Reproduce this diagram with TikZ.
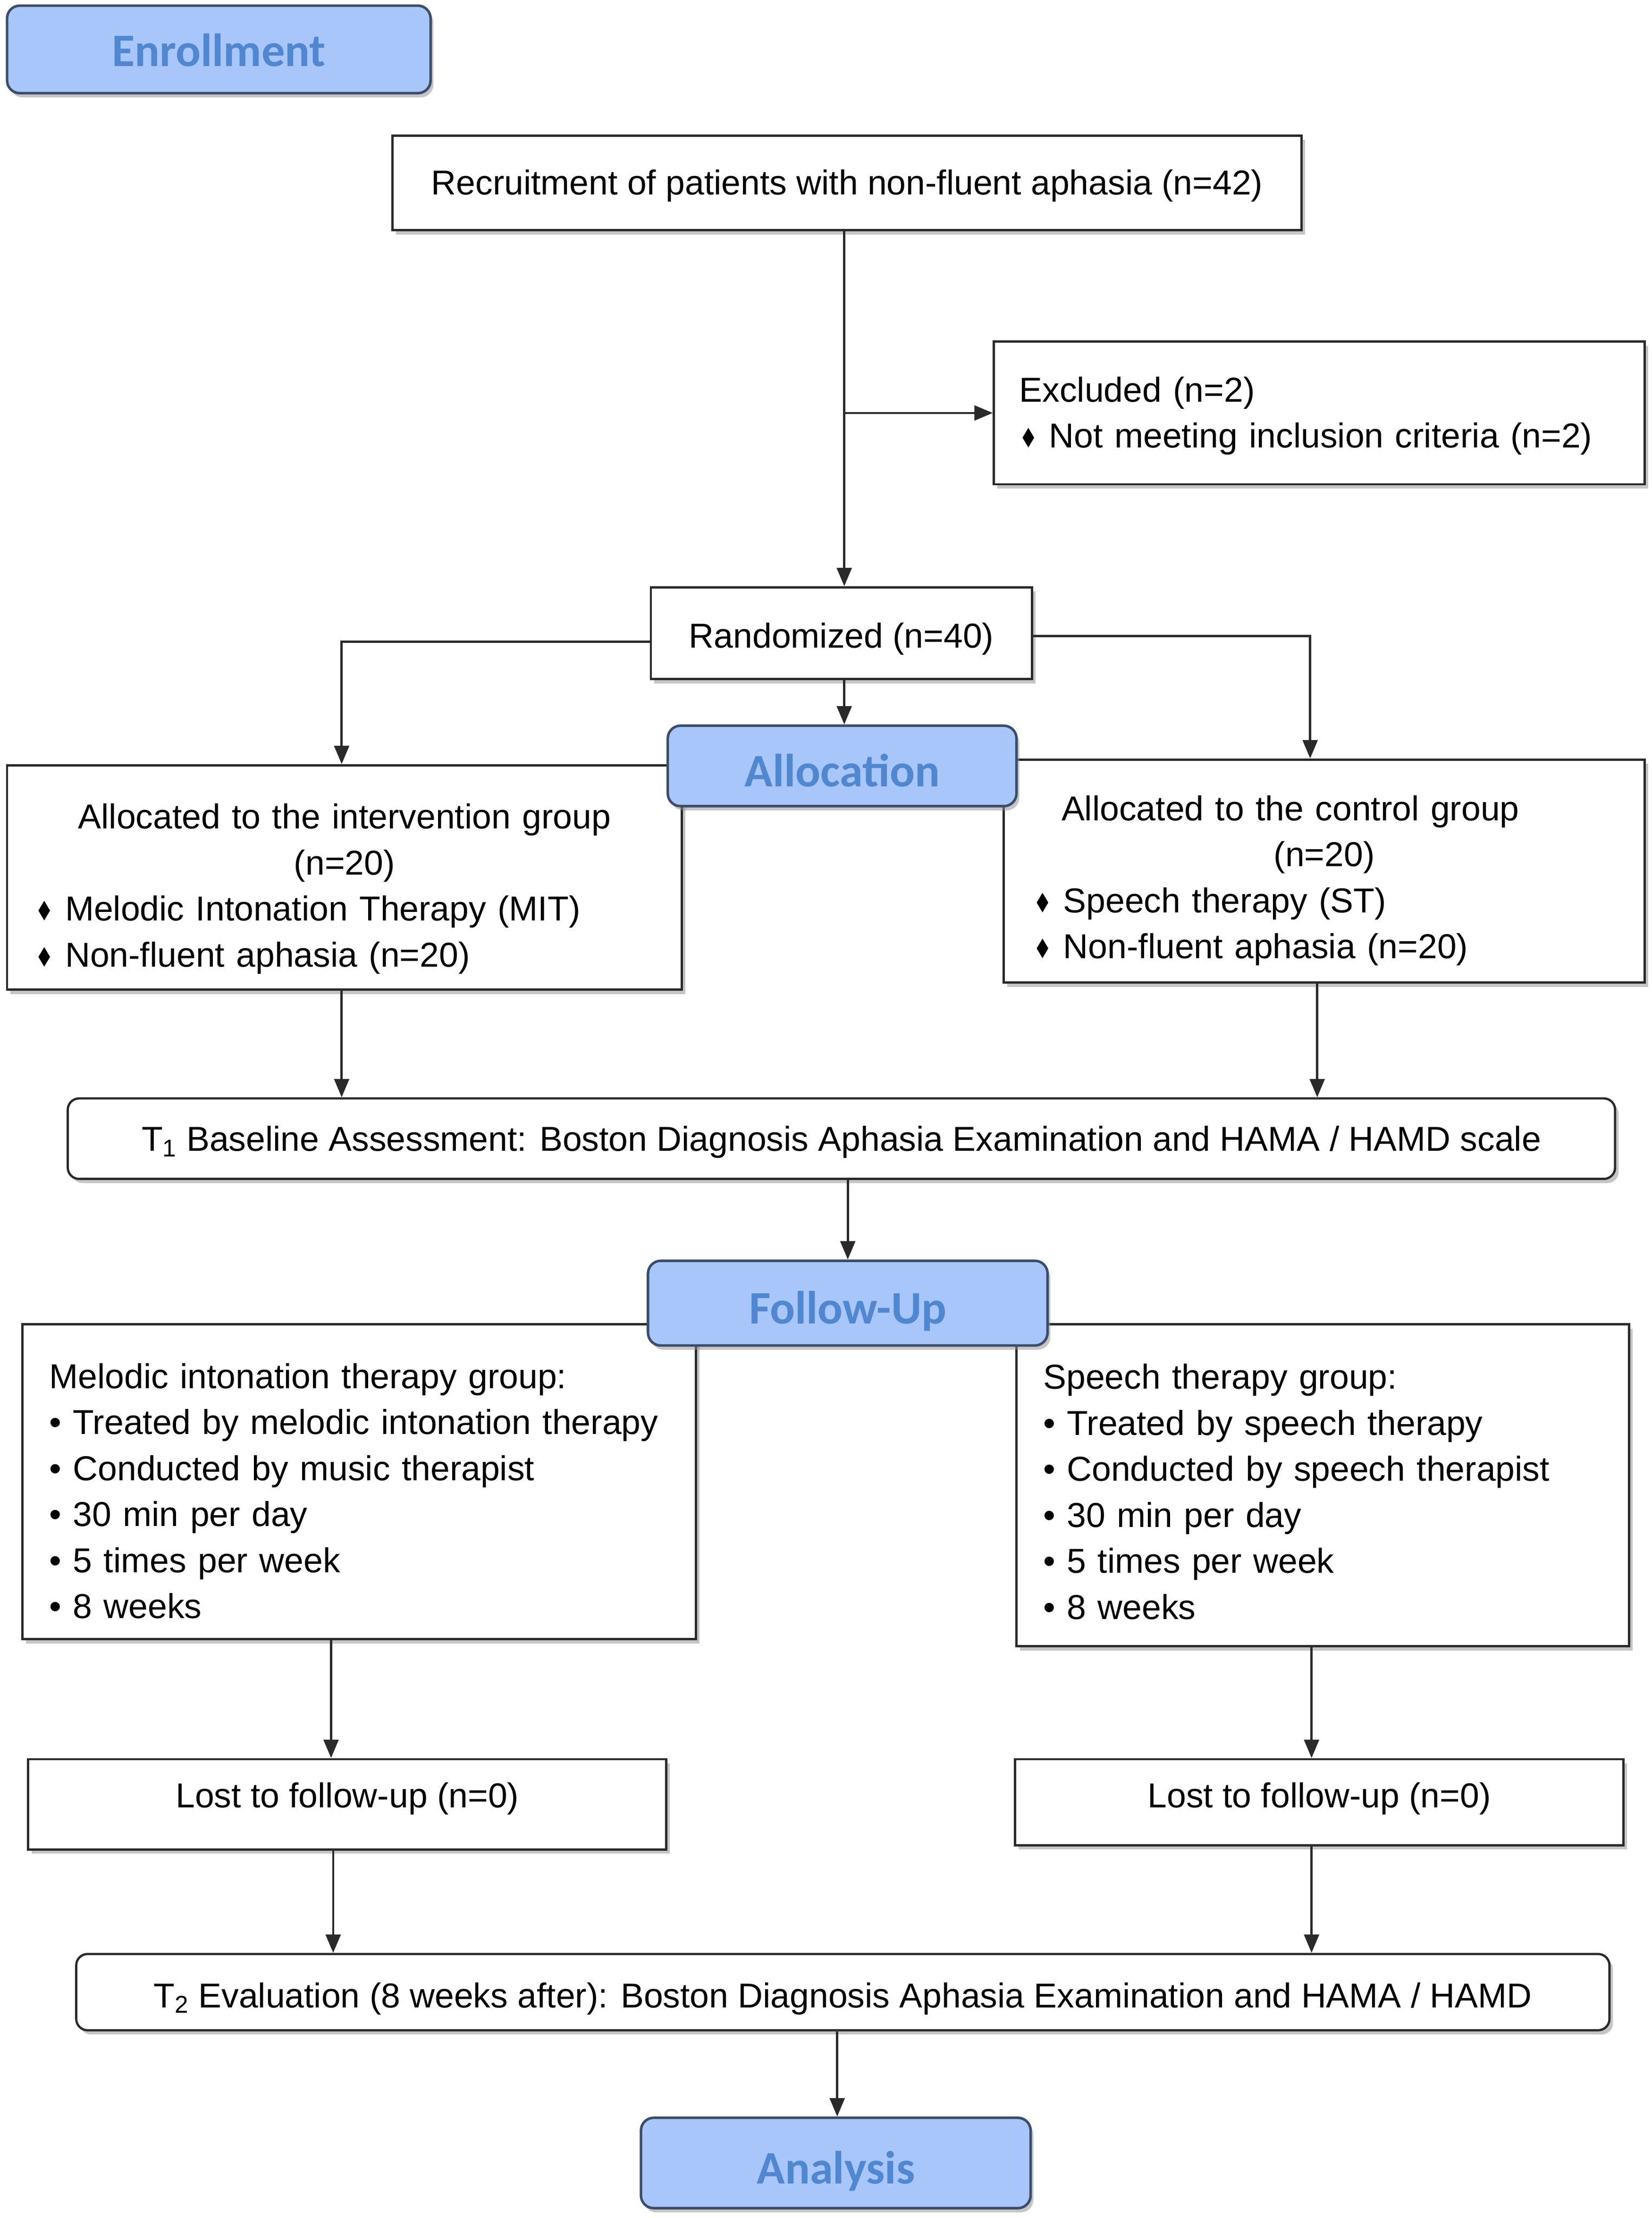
\documentclass[tikz,border=0pt]{standalone}
\usepackage{fontspec}
\usepackage{graphicx}
\setmainfont{Liberation Sans}
\newfontfamily\headfont{Carlito}
\newfontfamily\symfont{DejaVu Sans}
\usetikzlibrary{arrows.meta,shadows}
\definecolor{hdfill}{HTML}{A8C6FA}
\definecolor{hdtext}{HTML}{4F87D1}
\definecolor{hddraw}{HTML}{3A4E6A}
\definecolor{ln}{HTML}{2A2A2A}
\newcommand{\dmd}{{\symfont\scalebox{0.6}[0.78]{♦}}\hspace{8pt}}
\newcommand{\dn}[1]{\rule{0pt}{#1pt}}
\begin{document}
\begin{tikzpicture}[x=1pt,y=-1pt,
  every node/.style={font=\fontsize{24.5}{32.6}\selectfont},
  wbox/.style={draw=ln, line width=1.6pt, fill=white, rectangle, inner ysep=0pt,
    drop shadow={shadow xshift=2.5pt, shadow yshift=-3pt, fill=black!45}},
  hbox/.style={draw=hddraw, line width=1.8pt, fill=hdfill, rounded corners=9pt,
    text=hdtext, font=\headfont\bfseries\fontsize{33}{33}\selectfont, inner ysep=0pt,
    drop shadow={shadow xshift=2pt, shadow yshift=-3pt, fill=black!45}},
  conn/.style={draw=ln, line width=1.6pt, -{Triangle[length=13pt,width=10.5pt]}}
]
\useasboundingbox (0,0) rectangle (1170,1571);

% white boxes
\node[wbox, minimum width=644pt, minimum height=67pt, text height=20.8pt, text depth=4pt] (rec) at (600,129.5)
  {Recruitment of patients with non-fluent aphasia (n=42)};
\node[wbox, minimum height=101pt, text width=425pt, inner xsep=18pt, align=left] (excl) at (934.5,292.5)
  {\dn{22}Excluded (n=2)\\\dmd Not meeting inclusion criteria (n=2)};
\node[wbox, minimum width=270pt, minimum height=65pt, text height=24.8pt, text depth=4pt] (rand) at (596,448.5)
  {Randomized (n=40)};
\node[wbox, minimum height=159pt, text width=438pt, inner xsep=20pt, align=left] (inter) at (244,621.5)
  {\makebox[438pt][c]{\dn{34}Allocated to the intervention group}\\\makebox[438pt][c]{(n=20)}\\\dmd Melodic Intonation Therapy (MIT)\\\dmd Non-fluent aphasia (n=20)};
\node[wbox, minimum height=158pt, text width=412pt, inner xsep=21pt, align=left] (ctrl) at (938,617)
  {\makebox[412pt][c]{\dn{31}Allocated to the control group\hspace*{48pt}}\\\makebox[412pt][c]{(n=20)}\\\dmd Speech therapy (ST)\\\dmd Non-fluent aphasia (n=20)};
\node[wbox, rounded corners=8pt, minimum width=1096pt, minimum height=57pt, text height=21.8pt, text depth=4pt] (t1) at (596,806.5)
  {T\textsubscript{1} Baseline Assessment: Boston Diagnosis Aphasia Examination and HAMA / HAMD scale};
\node[wbox, minimum height=223pt, text width=439pt, inner xsep=19pt, align=left] (mit) at (254.5,1049.5)
  {\dn{31}Melodic intonation therapy group:\\• Treated by melodic intonation therapy\\• Conducted by music therapist\\• 30 min per day\\• 5 times per week\\• 8 weeks};
\node[wbox, minimum height=228pt, text width=396pt, inner xsep=19pt, align=left] (st) at (937,1052)
  {\dn{27}Speech therapy group:\\• Treated by speech therapy\\• Conducted by speech therapist\\• 30 min per day\\• 5 times per week\\• 8 weeks};
\node[wbox, minimum width=452pt, minimum height=64pt, text height=12.8pt, text depth=8pt] (lost1) at (246,1278)
  {Lost to follow-up (n=0)};
\node[wbox, minimum width=431pt, minimum height=61pt, text height=12pt, text depth=4.2pt] (lost2) at (934.5,1276.5)
  {Lost to follow-up (n=0)};
\node[wbox, rounded corners=8pt, minimum width=1086pt, minimum height=54pt, text height=25.8pt, text depth=4pt] (t2) at (597,1411)
  {T\textsubscript{2} Evaluation (8 weeks after): Boston Diagnosis Aphasia Examination and HAMA / HAMD};

% header boxes
\node[hbox, minimum width=300pt, minimum height=62pt, text height=28.2pt, text depth=4pt] (enroll) at (155,35) {Enrollment};
\node[hbox, minimum width=247pt, minimum height=57pt, text height=33.2pt, text depth=4pt] (alloc) at (596.5,542.5) {Allocation};
\node[hbox, minimum width=283pt, minimum height=60pt, text height=33.2pt, text depth=4pt] (fu) at (600.5,923) {Follow-Up};
\node[hbox, minimum width=276pt, minimum height=64pt, text height=33.2pt, text depth=4pt] (anal) at (592,1532) {Analysis};

% connectors
\draw[conn] ([xshift=-2pt]rec.south) -- ([xshift=-2pt]rec.south |- rand.north);
\draw[conn] ([xshift=-2pt]rec.south |- excl.west) -- (excl.west);
\draw[conn] ([yshift=-6pt]rand.west) -| ([xshift=-2pt]inter.north);
\draw[conn] ([yshift=-2pt]rand.east) -| ([xshift=-10pt]ctrl.north);
\draw[conn] ([xshift=2pt]rand.south) -- ([xshift=2pt]rand.south |- alloc.north);
\draw[conn] ([xshift=-2pt]inter.south) -- ([xshift=-2pt]inter.south |- t1.north);
\draw[conn] ([xshift=-5pt]ctrl.south) -- ([xshift=-5pt]ctrl.south |- t1.north);
\draw[conn] (fu.north |- t1.south) -- (fu.north);
\draw[conn] ([xshift=-20pt]mit.south) -- ([xshift=-20pt]mit.south |- lost1.north);
\draw[conn] ([xshift=-8pt]st.south) -- ([xshift=-8pt]st.south |- lost2.north);
\draw[conn] ([xshift=-10pt]lost1.south) -- ([xshift=-10pt]lost1.south |- t2.north);
\draw[conn] ([xshift=-5.5pt]lost2.south) -- ([xshift=-5.5pt]lost2.south |- t2.north);
\draw[conn] ([xshift=1pt]anal.north |- t2.south) -- ([xshift=1pt]anal.north);
\end{tikzpicture}
\end{document}
